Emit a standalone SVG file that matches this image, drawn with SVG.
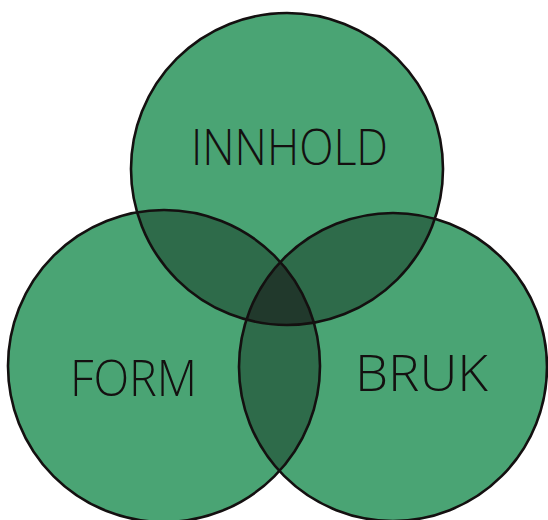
<svg xmlns="http://www.w3.org/2000/svg" width="548" height="520" viewBox="0 0 548 520">
<style>
.base{fill:#4aa474}
.dbl{fill:#2e6b4a}
.tri{fill:#21392c}
.ring{fill:none;stroke:#141010;stroke-width:2.6}
.lbl{font-family:"Open Sans","Liberation Sans",sans-serif;font-weight:300;fill:#141010;font-size:50px}
</style>
<defs>
<circle id="cT" cx="287" cy="169" r="156"/>
<circle id="cL" cx="164" cy="366" r="156"/>
<circle id="cR" cx="393" cy="367" r="154"/>
<clipPath id="clipT"><use href="#cT"/></clipPath>
<clipPath id="clipL"><use href="#cL"/></clipPath>
<clipPath id="clipR"><use href="#cR"/></clipPath>
</defs>
<rect width="548" height="520" fill="#ffffff"/>
<g id="fills">
<use href="#cT" class="base"/>
<use href="#cL" class="base"/>
<use href="#cR" class="base"/>
</g>
<g id="overlaps">
<g clip-path="url(#clipT)"><use href="#cL" class="dbl"/><use href="#cR" class="dbl"/></g>
<g clip-path="url(#clipL)"><use href="#cR" class="dbl"/></g>
<g clip-path="url(#clipT)"><g clip-path="url(#clipL)"><use href="#cR" class="tri"/></g></g>
</g>
<g id="connectors"></g>
<g id="innhold">
<use href="#cT" class="ring"/>
<text class="lbl" x="191" y="165" textLength="197" lengthAdjust="spacingAndGlyphs">INNHOLD</text>
</g>
<g id="form">
<use href="#cL" class="ring"/>
<text class="lbl" x="70" y="396" textLength="127" lengthAdjust="spacingAndGlyphs">FORM</text>
</g>
<g id="bruk">
<use href="#cR" class="ring"/>
<text class="lbl" x="355" y="391" textLength="133" lengthAdjust="spacingAndGlyphs">BRUK</text>
</g>
</svg>
